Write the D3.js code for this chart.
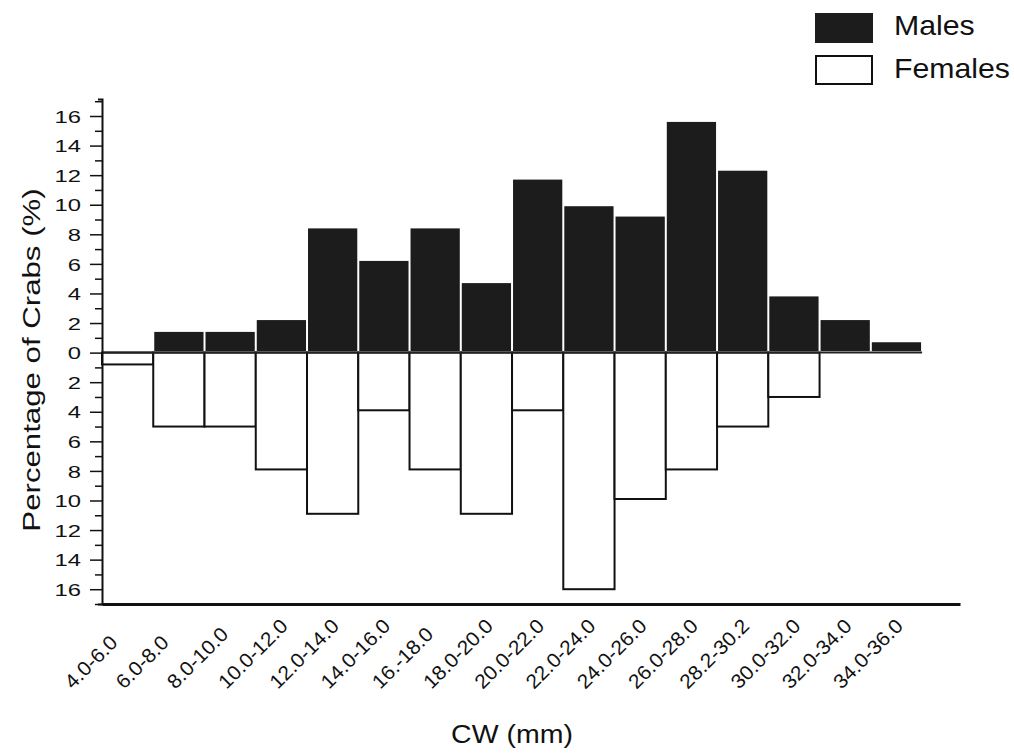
<!DOCTYPE html>
<html>
<head>
<meta charset="utf-8">
<script src="https://cdn.jsdelivr.net/npm/d3@7"></script>
<style>
  body { margin: 0; background: #fff; }
  svg text { font-family: "Liberation Sans", Arial, Helvetica, sans-serif; fill: #111; }
</style>
</head>
<body>
<div id="chart"></div>
<script>
// size classes of carapace width (mm)
const classes = ["4.0-6.0", "6.0-8.0", "8.0-10.0", "10.0-12.0", "12.0-14.0", "14.0-16.0",
  "16.-18.0", "18.0-20.0", "20.0-22.0", "22.0-24.0", "24.0-26.0", "26.0-28.0",
  "28.2-30.2", "30.0-32.0", "32.0-34.0", "34.0-36.0"];

// percentage of crabs in each class
const males   = [0, 1.4, 1.4, 2.2, 8.4, 6.2, 8.4, 4.7, 11.7, 9.9, 9.2, 15.6, 12.3, 3.8, 2.2, 0.7];
const females = [0.8, 5, 5, 7.9, 10.9, 3.9, 7.9, 10.9, 3.9, 16, 9.9, 7.9, 5, 3, 0, 0];

const majorTicks = d3.range(-16, 17, 2);
const minorTicks = d3.range(-17, 18, 1).filter(d => d % 2 !== 0);

const W = 1014, H = 755;
const svg = d3.select("#chart").append("svg")
  .attr("width", W)
  .attr("height", H);

// the plot area of the original figure
const plotLeft = 102, plotRight = 960, plotTop = 99, plotBottom = 604;

// bars start at the y axis, the x axis line runs on past the last class
const x = d3.scaleBand()
  .domain(classes)
  .range([plotLeft, plotRight])
  .paddingInner(0)
  .paddingOuter(0.37)
  .align(0);

const y = d3.scaleLinear()
  .domain([-17, 17.15])
  .range([plotBottom, plotTop]);

// females hang below zero
svg.append("g").selectAll("rect")
  .data(classes)
  .enter().append("rect")
  .filter((d, i) => females[i] > 0)
  .attr("x", d => x(d))
  .attr("y", y(0))
  .attr("width", x.bandwidth())
  .attr("height", d => y(-females[classes.indexOf(d)]) - y(0))
  .style("fill", "#fff")
  .style("stroke", "#111")
  .style("stroke-width", 2);

// males stand above zero
svg.append("g").selectAll("rect")
  .data(classes)
  .enter().append("rect")
  .filter((d, i) => males[i] > 0)
  .attr("x", d => x(d) + 1)
  .attr("y", d => y(males[classes.indexOf(d)]))
  .attr("width", x.bandwidth() - 2)
  .attr("height", d => y(0) - 1.5 - y(males[classes.indexOf(d)]))
  .style("fill", "#1c1c1c");

// zero line
svg.append("line")
  .attr("x1", plotLeft)
  .attr("x2", x(classes[classes.length - 1]) + x.bandwidth())
  .attr("y1", y(0))
  .attr("y2", y(0))
  .style("stroke", "#222")
  .style("stroke-width", 2);

// minor y ticks
svg.append("g")
  .attr("transform", `translate(${plotLeft},0)`)
  .call(d3.axisLeft(y).tickValues(minorTicks).tickSize(7).tickFormat(""))
  .call(g => g.select(".domain").remove())
  .selectAll("line").style("stroke", "#111").style("stroke-width", 1.5);

// major y ticks, both halves counted upward from zero
const yAxis = svg.append("g")
  .attr("transform", `translate(${plotLeft},0)`)
  .call(d3.axisLeft(y).tickValues(majorTicks).tickSize(12).tickSizeOuter(4)
    .tickFormat(d => Math.abs(d)));
yAxis.select(".domain").style("stroke", "#111").style("stroke-width", 2);
yAxis.selectAll(".tick line").style("stroke", "#111").style("stroke-width", 1.5);
yAxis.selectAll(".tick text")
  .attr("x", null)
  .attr("dy", "0.36em")
  .attr("text-anchor", "end")
  .attr("transform", "translate(-21,0) scale(1.4,1)")
  .style("font-size", "17px");

// x axis, slanted class labels all start on the same line
const xAxis = svg.append("g")
  .attr("transform", `translate(0,${plotBottom})`)
  .call(d3.axisBottom(x).tickSize(0).tickSizeOuter(0));
xAxis.select(".domain").style("stroke", "#111").style("stroke-width", 3);
xAxis.selectAll(".tick text")
  .attr("x", null)
  .attr("y", null)
  .attr("dy", null)
  .attr("text-anchor", "start")
  .attr("transform", "translate(-55,86) rotate(-45) scale(1.05,1)")
  .style("font-size", "20px");

// axis titles
svg.append("text")
  .attr("transform", "translate(40,360) rotate(-90) scale(1.3,1)")
  .attr("text-anchor", "middle")
  .style("font-size", "24px")
  .text("Percentage of Crabs (%)");

svg.append("text")
  .attr("transform", "translate(512,743) scale(1.14,1)")
  .attr("text-anchor", "middle")
  .style("font-size", "25px")
  .text("CW (mm)");

// legend
const legend = svg.append("g");
legend.append("rect")
  .attr("x", 815).attr("y", 13).attr("width", 58).attr("height", 30)
  .style("fill", "#1c1c1c");
legend.append("rect")
  .attr("x", 816).attr("y", 56).attr("width", 56).attr("height", 28)
  .style("fill", "#fff").style("stroke", "#111").style("stroke-width", 2);
legend.append("text")
  .attr("transform", "translate(894,35) scale(1.08,1)")
  .style("font-size", "28px")
  .text("Males");
legend.append("text")
  .attr("transform", "translate(894,78) scale(1.08,1)")
  .style("font-size", "28px")
  .text("Females");
</script>
</body>
</html>
